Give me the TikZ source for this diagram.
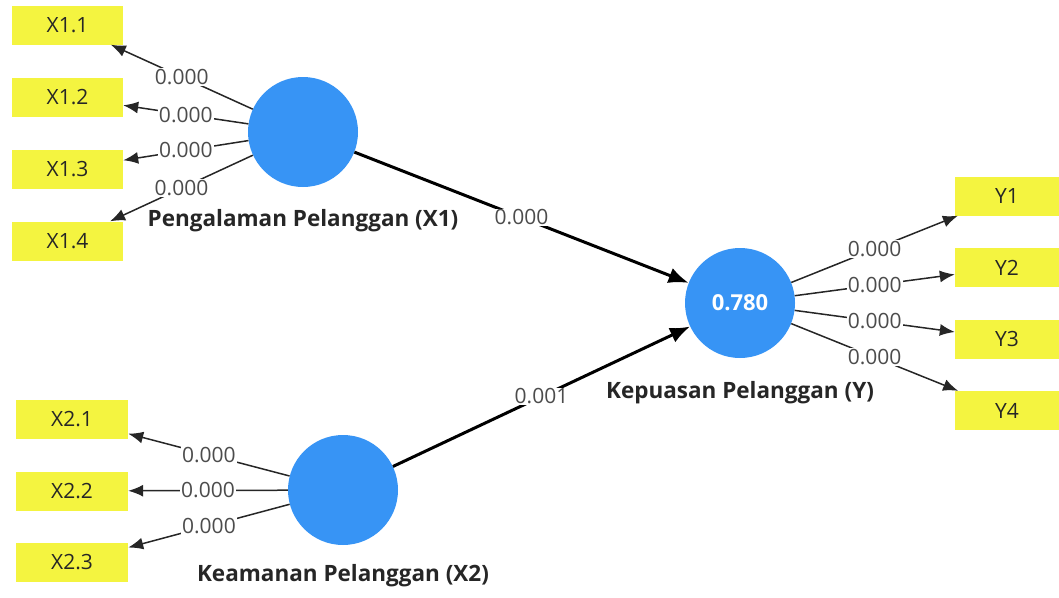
\documentclass[tikz,border=0pt]{standalone}
\usepackage{fontspec}
\setmainfont{Open Sans}
\usetikzlibrary{arrows.meta}
\usetikzlibrary{positioning}
\definecolor{lvblue}{HTML}{3794F5}
\definecolor{mvyellow}{HTML}{F4F440}
\tikzset{
	indikator/.style={fill=mvyellow, minimum width=111pt, minimum height=39pt, inner sep=0pt, text=black!85, font=\fontsize{21}{24}\selectfont},
	laten/.style={circle, fill=lvblue, minimum size=110pt, inner sep=0pt},
	nama/.style={font=\bfseries\fontsize{22.5}{26}\selectfont, text=black!85, inner sep=0pt},
	muatan/.style={-{Latex[width=12pt,length=15pt]}, draw=black!85, line width=1.5pt},
	jalur/.style={-{Latex[width=16pt,length=20pt]}, draw=black, line width=3pt},
	nilai/.style={fill=white, inner sep=1pt, text=black!70, font=\fontsize{21}{24}\selectfont}
}

\begin{document}
\begin{tikzpicture}[x=1pt,y=-1pt]
	\useasboundingbox (0,0) rectangle (1059,597);
	%variabel laten
	\node[laten] (x1) at (303,132) {};
	\node[laten] (x2) at (343,490) {};
	\node[laten] (y) at (740,303) {\textcolor{white}{\bfseries\fontsize{22}{26}\selectfont 0.780}};
	%nama variabel
	\node[nama, below=22pt of x1] (nx1) {Pengalaman Pelanggan (X1)};
	\node[nama, below=23pt of y] (ny) {Kepuasan Pelanggan (Y)};
	\node[nama, below=19pt of x2] (nx2) {Keamanan Pelanggan (X2)};
	%indikator X1
	\node[indikator] (x11) at (67.5,25) {X1.1};
	\node[indikator] (x12) at (67.5,97) {X1.2};
	\node[indikator] (x13) at (67.5,169) {X1.3};
	\node[indikator] (x14) at (67.5,241) {X1.4};
	%indikator X2
	\node[indikator, minimum width=112pt] (x21) at (72,419) {X2.1};
	\node[indikator, minimum width=112pt] (x22) at (72,491) {X2.2};
	\node[indikator, minimum width=112pt] (x23) at (72,562.5) {X2.3};
	%indikator Y
	\node[indikator, minimum width=104pt] (y1) at (1007,196) {Y1};
	\node[indikator, minimum width=104pt] (y2) at (1007,267.5) {Y2};
	\node[indikator, minimum width=104pt] (y3) at (1007,339) {Y3};
	\node[indikator, minimum width=104pt] (y4) at (1007,410.5) {Y4};
	%outer loading
	\draw[muatan] (x1) -- (x11) node[nilai, midway] {0.000};
	\draw[muatan] (x1) -- (x12) node[nilai, midway] {0.000};
	\draw[muatan] (x1) -- (x13) node[nilai, midway] {0.000};
	\draw[muatan] (x1) -- (x14) node[nilai, midway] {0.000};
	\draw[muatan] (x2) -- (x21) node[nilai, midway] {0.000};
	\draw[muatan] (x2) -- (x22) node[nilai, midway] {0.000};
	\draw[muatan] (x2) -- (x23) node[nilai, midway] {0.000};
	\draw[muatan] (y) -- (y1) node[nilai, midway] {0.000};
	\draw[muatan] (y) -- (y2) node[nilai, midway] {0.000};
	\draw[muatan] (y) -- (y3) node[nilai, midway] {0.000};
	\draw[muatan] (y) -- (y4) node[nilai, midway] {0.000};
	%koefisien jalur
	\draw[jalur] (x1) -- (y) node[nilai, midway] {0.000};
	\draw[jalur] (x2) -- (y) node[nilai, midway] {0.001};
\end{tikzpicture}
\end{document}
